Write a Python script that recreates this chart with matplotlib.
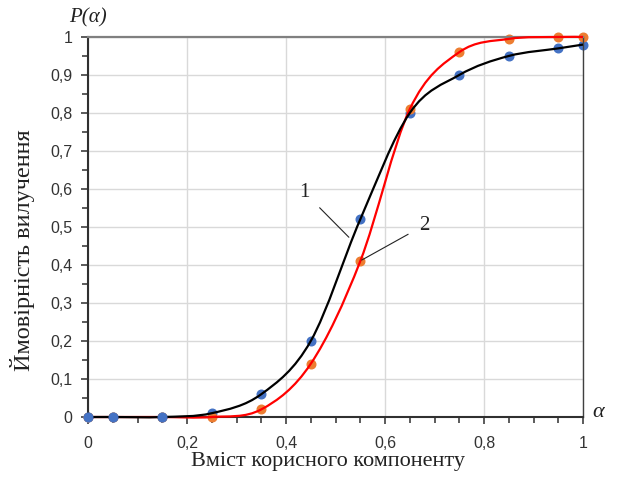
import numpy as np
import matplotlib
matplotlib.use('Agg')
import matplotlib.pyplot as plt
from matplotlib.path import Path
from matplotlib.patches import PathPatch
from matplotlib.ticker import MultipleLocator, FuncFormatter

# крива 1 (синi точки, чорна лiнiя)
x1 = [0, 0.05, 0.15, 0.25, 0.35, 0.45, 0.55, 0.65, 0.75, 0.85, 0.95, 1.0]
p1 = [0, 0, 0, 0.01, 0.06, 0.20, 0.52, 0.80, 0.90, 0.95, 0.97, 0.98]

# крива 2 (помаранчевi точки, червона лiнiя)
x2 = [0, 0.05, 0.15, 0.25, 0.35, 0.45, 0.55, 0.65, 0.75, 0.85, 0.95, 1.0]
p2 = [0, 0, 0, 0, 0.02, 0.14, 0.41, 0.81, 0.96, 0.995, 1.0, 1.0]


def smooth_path(xs, ys):
    # згладжування як в Excel: кубiчнi Безьє через точки
    pts = np.column_stack([xs, ys]).astype(float)
    n = len(pts)
    verts = [pts[0]]
    codes = [Path.MOVETO]
    for i in range(n - 1):
        p0 = pts[i - 1] if i > 0 else pts[i]
        pa = pts[i]
        pb = pts[i + 1]
        p3 = pts[i + 2] if i + 2 < n else pts[i + 1]
        c1 = pa + (pb - p0) / 6.0
        c2 = pb - (p3 - pa) / 6.0
        verts += [c1, c2, pb]
        codes += [Path.CURVE4] * 3
    return Path(verts, codes)


fig = plt.figure(figsize=(6.18, 4.79), dpi=100)
ax = fig.add_axes([0.1424, 0.1294, 0.8010, 0.7934])

ax.plot(x1, p1, 'o', color='#4472C4', ms=6.2, zorder=2, clip_on=False)
ax.plot(x2, p2, 'o', color='#ED7D31', ms=6.2, zorder=2, clip_on=False)
ax.add_patch(PathPatch(smooth_path(x2, p2), fc='none', ec='#FF0000', lw=1.6,
                       zorder=3, clip_on=False))
ax.add_patch(PathPatch(smooth_path(x1, p1), fc='none', ec='black', lw=1.6,
                       zorder=3, clip_on=False))
# синi точки на нулi поверх
ax.plot(x1[:3], p1[:3], 'o', color='#4472C4', ms=6.2, zorder=4, clip_on=False)

ax.set_xlim(0, 1)
ax.set_ylim(0, 1)
ax.xaxis.set_major_locator(MultipleLocator(0.2))
ax.xaxis.set_minor_locator(MultipleLocator(0.05))
ax.yaxis.set_major_locator(MultipleLocator(0.1))
ax.yaxis.set_minor_locator(MultipleLocator(0.05))
fmt = FuncFormatter(lambda v, pos: ('%g' % round(v, 2)).replace('.', ','))
ax.xaxis.set_major_formatter(fmt)
ax.yaxis.set_major_formatter(fmt)

ax.grid(True, which='major', color='#D9D9D9', lw=1.0, zorder=0)
ax.set_axisbelow(True)
ax.tick_params(which='both', direction='out', colors='#404040', width=1.2,
               labelcolor='#333333', labelsize=11.5)
ax.tick_params(which='major', length=5, pad=6)
ax.tick_params(axis='x', which='major', pad=9)
ax.tick_params(which='minor', length=4)
fig.canvas.draw()
for t in ax.get_xticklabels() + ax.get_yticklabels():
    t.set_fontfamily('Liberation Sans')
ax.get_yticklabels()[-1].set_fontweight('bold')

ax.spines['left'].set_color('#303030')
ax.spines['left'].set_linewidth(1.5)
ax.spines['bottom'].set_color('#303030')
ax.spines['bottom'].set_linewidth(1.5)
ax.spines['top'].set_color('#808080')
ax.spines['top'].set_linewidth(1.6)
ax.spines['right'].set_color('#404040')
ax.spines['right'].set_linewidth(1.0)

serif = 'Liberation Serif'
ax.set_xlabel('Вміст корисного компоненту', fontfamily=serif, fontsize=16,
              color='#222222')
ax.xaxis.set_label_coords(0.485, -0.093)
ax.set_ylabel('Ймовірність вилучення', fontfamily=serif, fontsize=17.5,
              color='#222222')
ax.yaxis.set_label_coords(-0.108, 0.44)
ax.text(0.0, 1.05, 'P(α)', transform=ax.transAxes, fontfamily=serif,
        fontstyle='italic', fontsize=15, ha='center', va='center', color='#222222')
ax.text(1.03, 0.013, 'α', transform=ax.transAxes, fontfamily=serif,
        fontstyle='italic', fontsize=16, ha='center', va='center', color='#222222')

ax.annotate('1', xy=(0.527, 0.473), xytext=(0.438, 0.59), fontfamily=serif,
            fontsize=15, ha='center', va='center', color='#222222',
            arrowprops=dict(arrowstyle='-', color='#222222', lw=0.8,
                            shrinkA=7, shrinkB=0))
ax.annotate('2', xy=(0.553, 0.413), xytext=(0.68, 0.505), fontfamily=serif,
            fontsize=15, ha='center', va='center', color='#222222',
            arrowprops=dict(arrowstyle='-', color='#222222', lw=0.8,
                            shrinkA=7, shrinkB=0))

fig.savefig('out.png', dpi=100)
